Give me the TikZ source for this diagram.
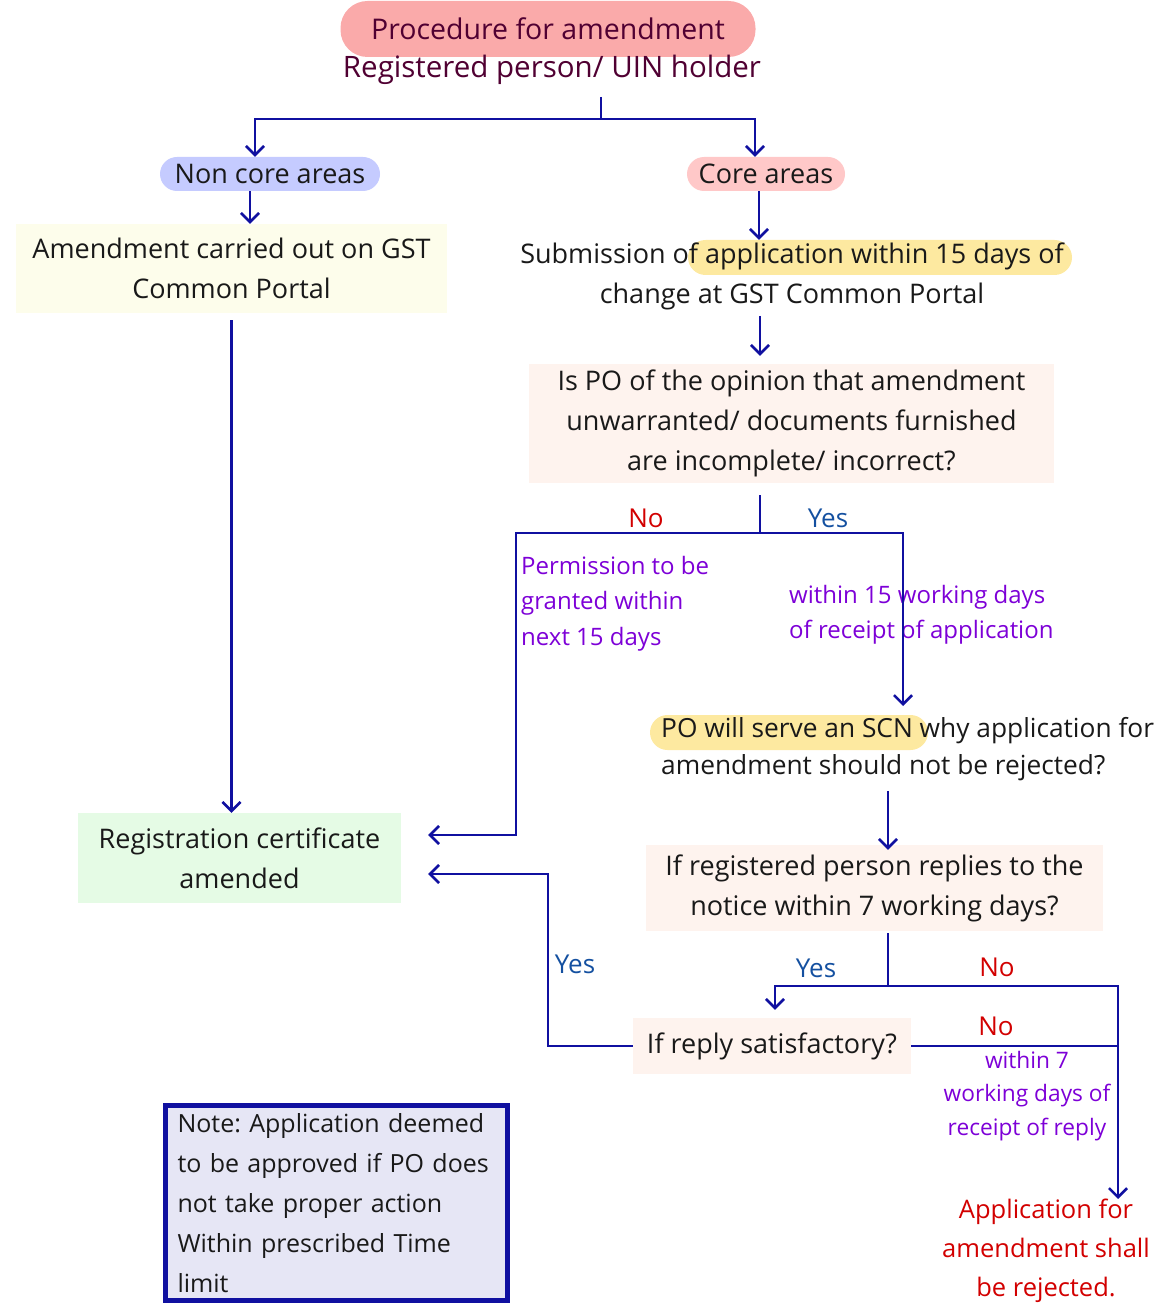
\documentclass[tikz,border=0pt]{standalone}
\usepackage{fontspec}
\setmainfont{Open Sans}
\usepackage{xcolor}
\usetikzlibrary{arrows.meta}
\definecolor{flowblue}{RGB}{16,16,160}
\definecolor{titlepink}{RGB}{250,170,170}
\definecolor{titletext}{RGB}{80,0,50}
\definecolor{noncorefill}{RGB}{197,203,255}
\definecolor{corefill}{RGB}{255,200,200}
\definecolor{portalfill}{RGB}{253,253,235}
\definecolor{hilite}{RGB}{253,233,160}
\definecolor{askfill}{RGB}{254,243,238}
\definecolor{certfill}{RGB}{229,251,229}
\definecolor{notefill}{RGB}{230,230,245}
\definecolor{yesblue}{RGB}{20,80,160}
\definecolor{nored}{RGB}{210,0,0}
\definecolor{timepurple}{RGB}{125,0,215}
\frenchspacing

\begin{document}
\begin{tikzpicture}[x=1pt, y=-1pt, >={Straight Barb[length=9pt,width=18pt]},
    font=\fontsize{27}{40}\selectfont, text=black!90,
    flow/.style={draw=flowblue, line width=2.6pt},
    pill/.style={rounded corners=17pt, minimum height=34pt, inner sep=0pt},
    plainbox/.style={inner sep=0pt, align=center},
    answer/.style={inner sep=0pt, font=\fontsize{26}{30}\selectfont},
    timing/.style={text=timepurple, font=\fontsize{24}{35.5}\selectfont, align=left, inner sep=0pt}]
    \useasboundingbox (0,0) rectangle (1175,1305);

    % heading
    \node (title) at (548,29) [fill=titlepink,rounded corners=27pt,minimum width=415pt,minimum height=56pt,text=titletext,font=\fontsize{28.5}{34}\selectfont] {Procedure for amendment};
    \node (holder) at (552,70) [text=titletext,inner sep=0pt,font=\fontsize{29.5}{34}\selectfont] {Registered person/ UIN holder};
    \coordinate (split) at (601,119);

    \node (noncore) at (270,174) [pill,fill=noncorefill,minimum width=220pt] {Non core areas};
    \node (core) at (766,174) [pill,fill=corefill,minimum width=158pt] {Core areas};

    % non core side
    \node (portal) at (231.5,268.5) [plainbox,fill=portalfill,minimum width=431pt,minimum height=89pt] {Amendment carried out on GST\\Common Portal};
    \node (cert) at (239.5,858) [plainbox,fill=certfill,minimum width=323pt,minimum height=90pt] {Registration certificate\\amended};

    % core side
    \node (subhl) at (880,257.5) [pill,fill=hilite,minimum width=384pt,minimum height=35pt,rounded corners=17.5pt] {};
    \node (sub) at (792,276) [plainbox] {Submission of application within 15 days of\\change at GST Common Portal};
    \node (ask) at (791.5,423.5) [plainbox,fill=askfill,minimum width=525pt,minimum height=119pt] {Is PO of the opinion that amendment\\unwarranted/ documents furnished\\are incomplete/ incorrect?};
    \coordinate (askfork) at (760,533);
    \coordinate (permturn) at (516,533);
    \node (noask) at (646,518) [answer,text=nored] {No};
    \node (yesask) at (828,518) [answer,text=yesblue] {Yes};
    \node (perm) at (521,603.5) [timing,anchor=west] {Permission to be\\granted within\\next 15 days};
    \node (within15) at (789,615) [timing,anchor=west] {within 15 working days\\of receipt of application};

    \node (scnhl) at (789,732.5) [pill,fill=hilite,minimum width=278pt,minimum height=35pt,rounded corners=17.5pt] {};
    \node (scn) at (661,749) [plainbox,align=left,anchor=west,font=\fontsize{26.3}{37}\selectfont] {PO will serve an SCN why application for\\amendment should not be rejected?};
    \coordinate (scnin) at (903,706);

    \node (reply) at (874.5,888) [plainbox,fill=askfill,minimum width=457pt,minimum height=86pt] {If registered person replies to the\\notice within 7 working days?};
    \coordinate (replyfork) at (888,986);
    \coordinate (rejcorner) at (1118,986);
    \node (yesreply) at (816,968) [answer,text=yesblue] {Yes};
    \node (noreply) at (997,967) [answer,text=nored] {No};

    \node (satis) at (772,1046) [plainbox,fill=askfill,minimum width=278pt,minimum height=56pt] {If reply satisfactory?};
    \coordinate (satisturn) at (548,1046);
    \node (yessatis) at (575,964) [answer,text=yesblue] {Yes};
    \node (nosatis) at (996,1026) [answer,text=nored] {No};
    \node (within7) at (1027,1096) [timing,align=center,font=\fontsize{22.7}{33.5}\selectfont] {within 7\\working days of\\receipt of reply};

    \node (reject) at (1046,1251) [plainbox,text=nored,font=\fontsize{25.5}{39}\selectfont] {Application for\\amendment shall\\be rejected.};

    % note
    \node (note) at (336.5,1203) [draw=flowblue,line width=5pt,fill=notefill,minimum width=342pt,minimum height=195pt,text width=318pt,inner xsep=12pt,align=left,font=\fontsize{25}{40}\selectfont] {Note: Application deemed\\to be approved if PO does\\not take proper action\\Within prescribed Time\\limit};

    % connectors
    \draw[flow,shorten <=12pt] (holder.south -| split) -- (split);
    \draw[flow,->] (split) -| ([xshift=-15pt]noncore.north);
    \draw[flow,->] (split) -| ([xshift=-11pt]core.north);
    \draw[flow,->] ([xshift=-20pt]noncore.south) -- ([xshift=-20pt]noncore.south |- portal.north);
    \draw[flow,->,shorten <=7pt] (portal.south) -- (portal.south |- cert.north);
    \draw[flow,->] ([xshift=-7pt]core.south) -- ([xshift=-7pt]core.south |- subhl.north);
    \draw[flow,->,shorten <=6pt,shorten >=8pt] (sub.south -| askfork) -- (ask.north -| askfork);
    \draw[flow,shorten <=12pt] (ask.south -| askfork) -- (askfork);
    \draw[flow,->] (askfork) -| (scnin);
    \draw[flow,->,shorten >=27pt] (askfork) -- (permturn) |- ([yshift=23pt]cert.east);
    \draw[flow,->,shorten <=10pt,shorten >=-5pt] (scn.south -| replyfork) -- (reply.north -| replyfork);
    \draw[flow,shorten <=2pt] (reply.south -| replyfork) -- (replyfork);
    \draw[flow,->,shorten >=8pt] (replyfork) -| ([xshift=3pt]satis.north);
    \draw[flow,->] (replyfork) -- (rejcorner) -- (rejcorner |- reject.north);
    \draw[flow] (satis.east) -- (satis.east -| rejcorner);
    \draw[flow,->,shorten >=27pt] (satis.west) -- (satisturn) |- ([yshift=-16pt]cert.east);
\end{tikzpicture}
\end{document}
